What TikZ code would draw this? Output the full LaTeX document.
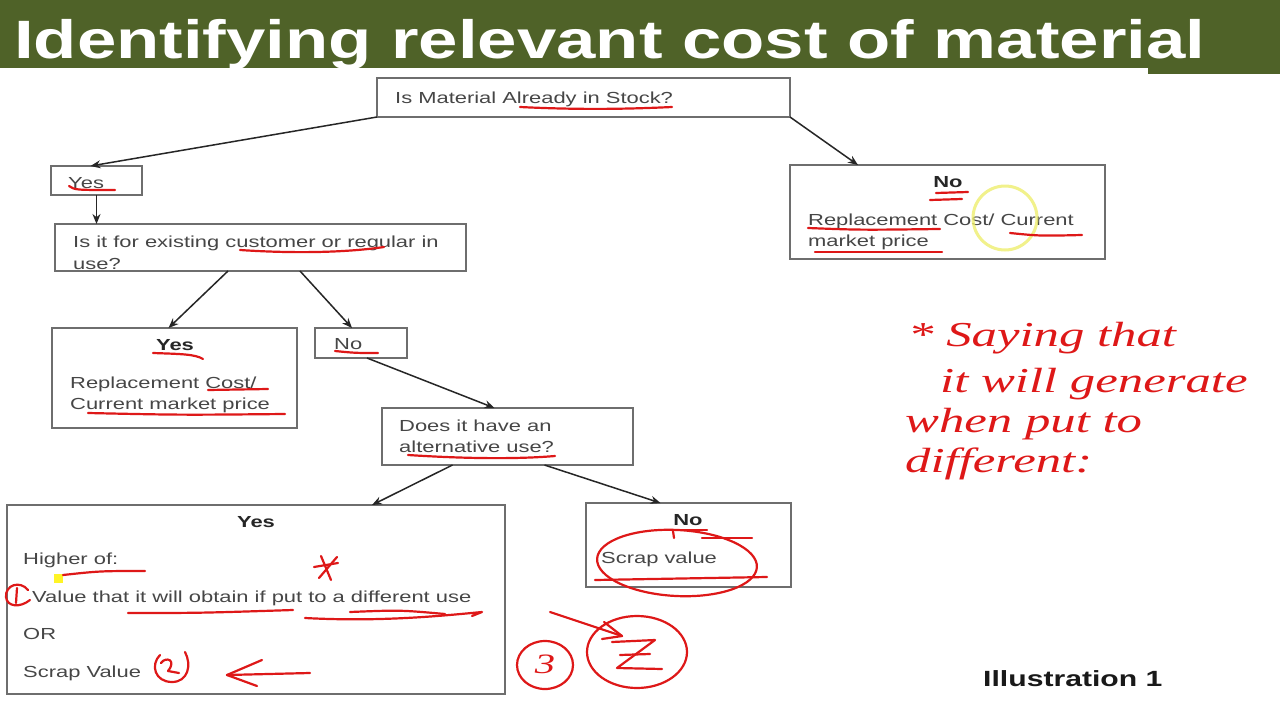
\documentclass[tikz,border=0pt]{standalone}
\usepackage{fontspec}
\usetikzlibrary{arrows.meta}
\newfontfamily\bodyf[FakeStretch=1.37]{Liberation Sans}
\newfontfamily\titlef[FakeStretch=1.31]{Liberation Sans}
\newfontfamily\handf[FakeStretch=1.45]{Liberation Serif}
\definecolor{titlegreen}{RGB}{79,98,40}
\definecolor{boxgray}{RGB}{110,110,110}
\definecolor{textgray}{RGB}{70,70,70}
\definecolor{handred}{RGB}{222,24,24}
\definecolor{cursoryellow}{RGB}{238,238,110}
\begin{document}
\begin{tikzpicture}[x=1pt,y=-1pt,
 box/.style={draw=boxgray,line width=1.3pt,inner sep=0pt,outer sep=0pt},
 txt/.style={inner sep=0pt,text=textgray,anchor=base west,font=\bodyf\fontsize{16}{19}\selectfont},
 btxt/.style={inner sep=0pt,text=black!85,anchor=base,font=\bodyf\bfseries\fontsize{16}{19}\selectfont},
 arr/.style={draw=black!85,line width=1.5pt,-{Stealth[length=10pt,width=8pt]}},
 ink/.style={draw=handred,line width=2.2pt,line cap=round,line join=round},
 inktxt/.style={inner sep=0pt,anchor=base west,text=handred,font=\handf\itshape\fontsize{35}{40}\selectfont},
]
\useasboundingbox (0,0) rectangle (1280,720);
\fill[white] (0,0) rectangle (1280,720);
% title bar
\fill[titlegreen] (0,0) rectangle (1280,68);
\fill[titlegreen] (1148,68) rectangle (1280,74);
\node[anchor=base west,inner sep=0pt,text=white,font=\titlef\bfseries\fontsize{54}{60}\selectfont] (title) at (14,58) {Identifying relevant cost of material};

% boxes
\node[box,minimum width=413pt,minimum height=39pt] (top) at (583.5,97.5) {};
\node[box,minimum width=91pt,minimum height=29pt] (yes1) at (96.5,180.5) {};
\node[box,minimum width=411pt,minimum height=47pt] (q2) at (260.5,247.5) {};
\node[box,minimum width=315pt,minimum height=94pt] (noR) at (947.5,212) {};
\node[box,minimum width=245pt,minimum height=100pt] (yes2) at (174.5,378) {};
\node[box,minimum width=92pt,minimum height=30pt] (no2) at (361,343) {};
\node[box,minimum width=251pt,minimum height=57pt] (q3) at (507.5,436.5) {};
\node[box,minimum width=498pt,minimum height=189pt] (yes3) at (256,599.5) {};
\node[box,minimum width=205pt,minimum height=84pt] (no3) at (688.5,545) {};

% texts
\node[txt] (ttop) at (395,103) {Is Material Already in Stock?};
\node[txt] (tyes1) at (68,188) {Yes};
\node[txt] (tq2a) at (73,247) {Is it for existing customer or regular in};
\node[txt] (tq2b) at (73,269) {use?};
\node[btxt] (tnoR) at (948,187) {No};
\node[txt] (tnoRa) at (808,225) {Replacement Cost/ Current};
\node[txt] (tnoRb) at (808,246) {market price};
\node[btxt] (tyes2) at (175,350) {Yes};
\node[txt] (tyes2a) at (70,388) {Replacement Cost/};
\node[txt] (tyes2b) at (70,409) {Current market price};
\node[txt] (tno2) at (334,349) {No};
\node[txt] (tq3a) at (399,431) {Does it have an};
\node[txt] (tq3b) at (399,452) {alternative use?};
\node[btxt] (tyes3) at (256,527) {Yes};
\node[txt] (tyes3a) at (23,564) {Higher of:};
\node[txt] (tyes3b) at (32,602) {Value that it will obtain if put to a different use};
\node[txt] (tyes3c) at (23,639) {OR};
\node[txt] (tyes3d) at (23,677) {Scrap Value};
\node[btxt] (tno3) at (688,525) {No};
\node[txt] (tno3a) at (601,563) {Scrap value};
\node[inner sep=0pt,anchor=base west,text=black!90,font=\bodyf\bfseries\fontsize{22}{26}\selectfont] (illus) at (983,686) {Illustration 1};

% connectors
\draw[arr] (top.south west) -- ([xshift=-6pt]yes1.north);
\draw[arr] (top.south east) -- ([xshift=68pt]noR.north west);
\draw[arr] (yes1.south) -- (yes1.south |- q2.north);
\draw[arr] ([xshift=173pt]q2.south west) -- ([xshift=-6pt]yes2.north);
\draw[arr] ([xshift=245pt]q2.south west) -- ([xshift=-9pt]no2.north);
\draw[arr] ([xshift=6pt]no2.south) -- ([xshift=-13pt]q3.north);
\draw[arr] ([xshift=-55pt]q3.south) -- ([xshift=116pt]yes3.north);
\draw[arr] ([xshift=37pt]q3.south) -- ([xshift=-28pt]no3.north);

% yellow marks
\draw[cursoryellow,line width=3pt,opacity=0.8] (1005,218) circle (32);
\fill[yellow!85!white] (54,574) rectangle (63,583);

% red ink annotations
\draw[ink] (520,107) .. controls (580,110) and (630,109) .. (672,107);
\draw[ink] (69,186) .. controls (75,190) .. (115,190);
\draw[ink] (240,250) .. controls (300,254) and (350,252) .. (384,247);
\draw[ink] (936,193) -- (968,192);
\draw[ink] (930,200) -- (962,199);
\draw[ink] (808,228) .. controls (860,230) .. (940,229);
\draw[ink] (1010,233) .. controls (1040,236) .. (1082,235);
\draw[ink] (815,252) -- (942,252);
\draw[ink] (153,353) .. controls (180,354) and (195,354) .. (203,359);
\draw[ink] (208,390) -- (268,389);
\draw[ink] (88,413) .. controls (180,415) .. (285,414);
\draw[ink] (335,351) .. controls (355,353) .. (378,353);
\draw[ink] (408,455) .. controls (470,459) and (520,459) .. (555,456);
\draw[ink] (63,575) .. controls (100,571) .. (145,571);
\draw[ink] (128,613) .. controls (200,613) .. (293,610);
\draw[ink] (305,618) .. controls (380,622) and (440,616) .. (482,612) -- (472,616);
\draw[ink] (350,612) .. controls (400,610) .. (445,614);
% (1)
\draw[ink] (28,590) .. controls (20,580) and (5,585) .. (6,597) .. controls (7,607) and (20,608) .. (30,600);
\draw[ink] (17,588) -- (16,603);
% star mark
\draw[ink] (321,556) -- (331,580);
\draw[ink] (337,557) -- (319,578);
\draw[ink] (314,567) -- (338,563);
% (2) beside Scrap Value
\draw[ink] (160,655) .. controls (150,665) and (155,682) .. (172,682) .. controls (188,682) and (192,665) .. (185,652);
\draw[ink] (161,663) .. controls (166,656) and (177,660) .. (168,671) -- (179,673);
% left arrow
\draw[ink] (310,673) -- (227,675);
\draw[ink] (262,660) -- (227,675) -- (257,686);
% scrap value circle
\draw[ink,rotate around={-3:(677,563)}] (677,563) ellipse [x radius=80,y radius=33];
\draw[ink] (667,530) -- (707,530);
\draw[ink] (702,538) -- (752,538);
\draw[ink] (595,580) -- (767,577);
\draw[ink] (673,531) -- (674,538);
% (3) and (2) below
\draw[ink] (545,665) ellipse [x radius=28,y radius=24];
\node[inner sep=0pt,text=handred,font=\handf\itshape\fontsize{28}{30}\selectfont] (three) at (545,664) {3};
\draw[ink] (637,652) ellipse [x radius=50,y radius=36];
\draw[ink] (612,642) -- (655,640) -- (617,668) -- (662,669);
\draw[ink] (620,655) -- (650,654);
\draw[ink] (550,612) -- (622,636);
\draw[ink] (604,622) -- (622,636) -- (602,639);
% handwritten note
\node[inktxt] (n1) at (908,346) {* Saying that};
\node[inktxt] (n2) at (940,392) {it will generate};
\node[inktxt] (n3) at (905,432) {when put to};
\node[inktxt] (n4) at (905,472) {different:};
\end{tikzpicture}
\end{document}
